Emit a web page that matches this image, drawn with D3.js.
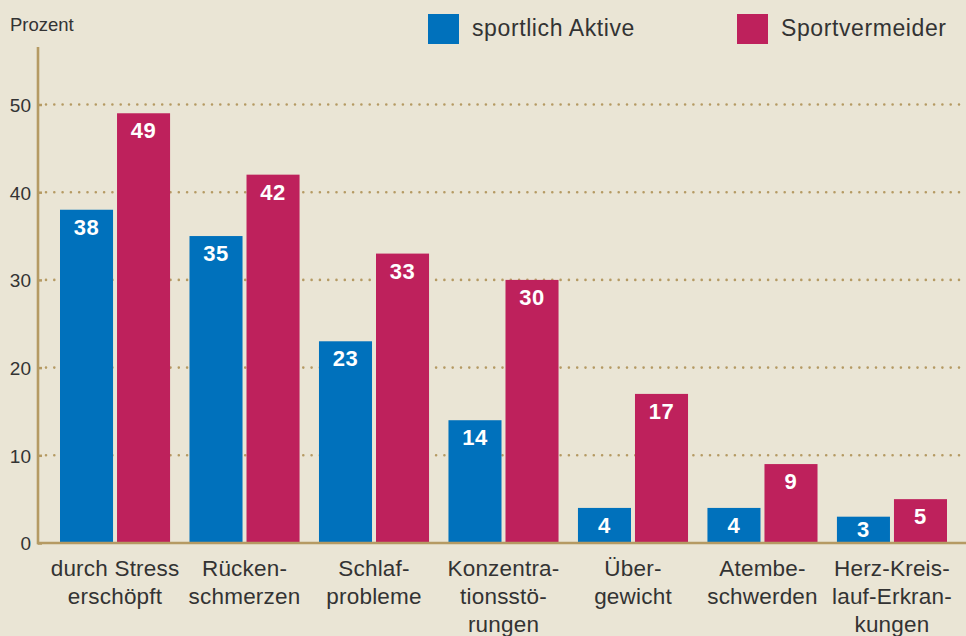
<!DOCTYPE html>
<html>
<head>
<meta charset="utf-8">
<script src="https://cdn.jsdelivr.net/npm/d3@7"></script>
<style>
  html, body { margin: 0; padding: 0; background: #eae5d5; }
  svg { display: block; font-family: "Liberation Sans", Arial, sans-serif; }
  .tick text { fill: #333; }
</style>
</head>
<body>
<div class="chart"></div>
<script>
var categories = ["durch Stress\nerschöpft", "Rücken-\nschmerzen", "Schlaf-\nprobleme",
  "Konzentra-\ntionsstö-\nrungen", "Über-\ngewicht", "Atembe-\nschwerden", "Herz-Kreis-\nlauf-Erkran-\nkungen"];
var seriesNames = ["sportlich Aktive", "Sportvermeider"];
var aktive = [38, 35, 23, 14, 4, 4, 3];
var vermeider = [49, 42, 33, 30, 17, 9, 5];
var yTicks = [0, 10, 20, 30, 40, 50];

var colors = ["#0071bc", "#be215c"];
var gold = "#b59a63";

var svgWidth = 966;
var svgHeight = 636;

var svg = d3.select(".chart")
  .append("svg")
  .attr("width", svgWidth)
  .attr("height", svgHeight);

svg.append("rect")
  .attr("width", svgWidth)
  .attr("height", svgHeight)
  .attr("fill", "#eae5d5");

var rows = categories.map(function(c, i) {
  return { cat: c, values: [aktive[i], vermeider[i]] };
});

var x0 = d3.scaleBand()
  .domain(categories)
  .range([60, 947])
  .paddingInner(0.15)
  .paddingOuter(0);

var x1 = d3.scaleBand()
  .domain([0, 1])
  .range([0, x0.bandwidth()])
  .paddingInner(0.07);

var y = d3.scaleLinear()
  .domain([0, 50])
  .range([543, 104.5]);

// dotted gridlines
svg.append("g")
  .selectAll("line")
  .data(yTicks.filter(d => d > 0))
  .enter()
  .append("line")
  .attr("x1", 46)
  .attr("x2", svgWidth)
  .attr("y1", d => y(d))
  .attr("y2", d => y(d))
  .attr("stroke", gold)
  .attr("stroke-width", 2.6)
  .attr("stroke-linecap", "round")
  .attr("stroke-dasharray", "0,8.3");

// y axis
var leftAxis = d3.axisLeft(y).tickValues(yTicks).tickSize(4).tickPadding(5);
var yg = svg.append("g")
  .attr("transform", "translate(38,0)")
  .call(leftAxis);
yg.select(".domain").remove();
yg.selectAll(".tick line").attr("stroke", gold).attr("stroke-width", 2.5).attr("x1", 0).attr("x2", 4);
yg.selectAll(".tick text").attr("font-size", 19).attr("x", -7).attr("dy", "0.36em");

svg.append("line")
  .attr("x1", 38).attr("x2", 38)
  .attr("y1", 47).attr("y2", y(0) + 1.2)
  .attr("stroke", gold)
  .attr("stroke-width", 2.6);

// bars
var groups = svg.append("g")
  .selectAll("g")
  .data(rows)
  .enter()
  .append("g")
  .attr("transform", d => `translate(${x0(d.cat)},0)`);

groups.selectAll("rect")
  .data(d => d.values)
  .enter()
  .append("rect")
  .attr("x", (d, i) => x1(i))
  .attr("y", d => y(d))
  .attr("width", x1.bandwidth())
  .attr("height", d => y(0) - y(d))
  .attr("fill", (d, i) => colors[i]);

groups.selectAll("text")
  .data(d => d.values)
  .enter()
  .append("text")
  .attr("x", (d, i) => x1(i) + x1.bandwidth() / 2)
  .attr("y", d => Math.min(y(d) + 25, y(0) - 6))
  .attr("text-anchor", "middle")
  .attr("fill", "#fff")
  .attr("font-weight", "bold")
  .attr("font-size", 22)
  .attr("letter-spacing", 0.6)
  .text(d => d);

// baseline
svg.append("line")
  .attr("x1", 37).attr("x2", svgWidth)
  .attr("y1", y(0)).attr("y2", y(0))
  .attr("stroke", gold)
  .attr("stroke-width", 2.6);

// category labels
var bottomAxis = d3.axisBottom(x0).tickSize(0).tickFormat("");
var xg = svg.append("g")
  .attr("transform", `translate(0,${y(0)})`)
  .call(bottomAxis);
xg.select(".domain").remove();
xg.selectAll(".tick").append("text")
  .attr("text-anchor", "middle")
  .attr("font-size", 22.5)
  .attr("letter-spacing", 0.2)
  .attr("fill", "#333")
  .attr("y", 33)
  .selectAll("tspan")
  .data(d => d.split("\n"))
  .enter()
  .append("tspan")
  .attr("x", 0)
  .attr("dy", (d, i) => i === 0 ? 0 : 28)
  .text(d => d);

// unit label
svg.append("text")
  .attr("x", 10)
  .attr("y", 31)
  .attr("font-size", 18.5)
  .attr("fill", "#333")
  .text("Prozent");

// legend
var legendX = [428, 737];
var legend = svg.append("g")
  .selectAll("g")
  .data(seriesNames)
  .enter()
  .append("g")
  .attr("transform", (d, i) => `translate(${legendX[i]},14)`);

legend.append("rect")
  .attr("width", 31)
  .attr("height", 30)
  .attr("fill", (d, i) => colors[i]);

legend.append("text")
  .attr("x", 44)
  .attr("y", 22)
  .attr("font-size", 23)
  .attr("letter-spacing", 0.6)
  .attr("fill", "#333")
  .text(d => d);
</script>
</body>
</html>
